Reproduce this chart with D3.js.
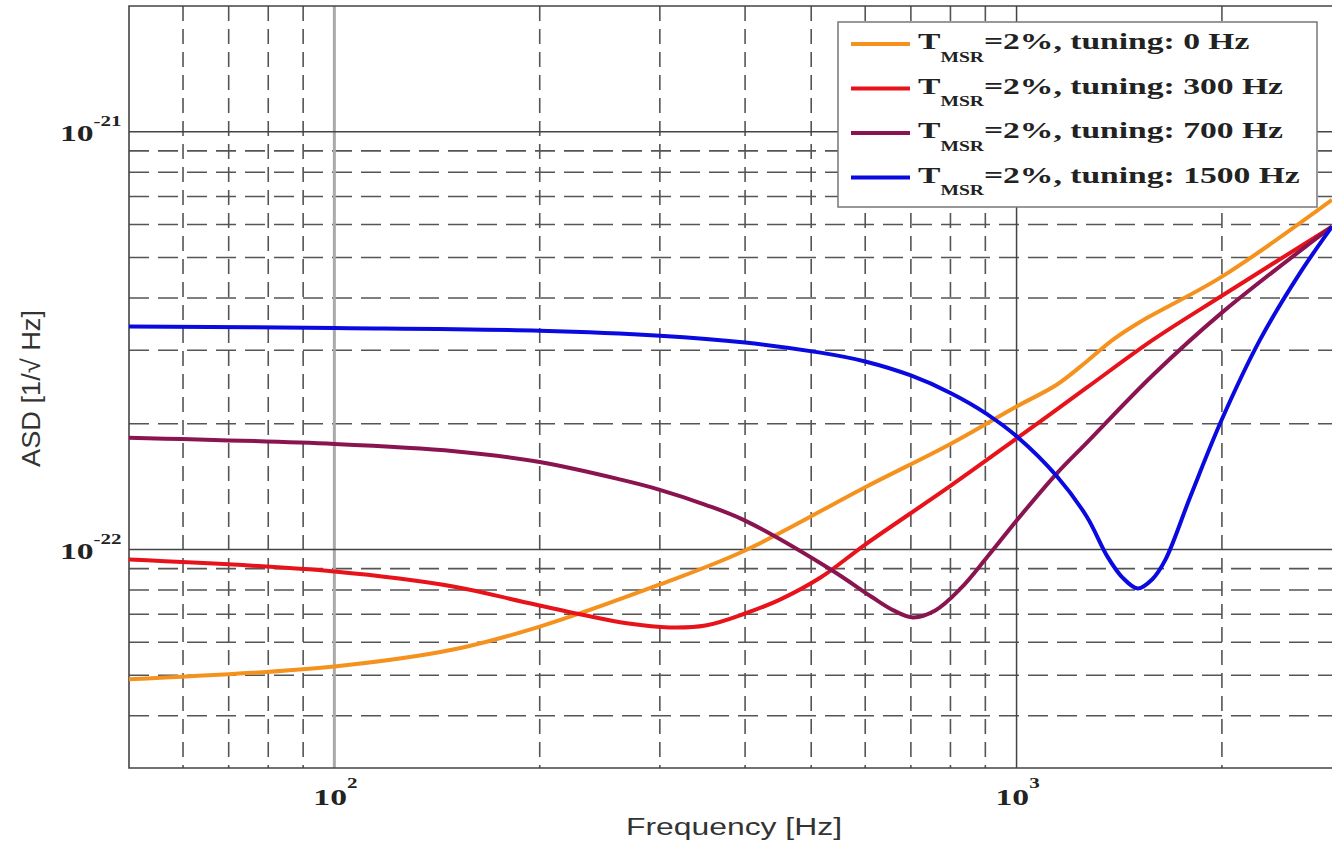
<!DOCTYPE html>
<html>
<head>
<meta charset="utf-8">
<script src="https://cdn.jsdelivr.net/npm/d3@7"></script>
<style>
  body { margin: 0; background: #fff; }
  svg { display: block; }
</style>
</head>
<body>
<div id="vis"></div>
<script>
// frequencies (Hz) and ASD values
var freqs0 = [50, 100, 150, 200, 300, 400, 600, 800, 1000, 1145, 1267, 1385, 1519, 2000, 2900];
var asd0 = [4.89e-23, 5.25e-23, 5.77e-23, 6.54e-23, 8.25e-23, 9.95e-23, 1.41e-22, 1.79e-22, 2.2e-22, 2.48e-22, 2.82e-22, 3.18e-22, 3.51e-22, 4.5e-22, 6.87e-22];

var freqs300 = [50, 100, 150, 188, 230, 270, 310, 350, 400, 450, 516, 600, 800, 1003, 1267, 1586, 2000, 2900];
var asd300 = [9.46e-23, 8.86e-23, 8.15e-23, 7.51e-23, 6.99e-23, 6.65e-23, 6.51e-23, 6.58e-23, 7.03e-23, 7.59e-23, 8.57e-23, 1.028e-22, 1.42e-22, 1.85e-22, 2.44e-22, 3.18e-22, 4.05e-22, 5.93e-22];

var freqs700 = [50, 100, 150, 200, 263, 300, 350, 400, 534, 612, 660, 705, 760, 828, 905, 1003, 1145, 1267, 1586, 2000, 2900];
var asd700 = [1.853e-22, 1.79e-22, 1.72e-22, 1.62e-22, 1.47e-22, 1.39e-22, 1.28e-22, 1.173e-22, 8.96e-23, 7.72e-23, 7.15e-23, 6.88e-23, 7.15e-23, 8.07e-23, 9.58e-23, 1.18e-22, 1.52e-22, 1.8e-22, 2.62e-22, 3.69e-22, 5.93e-22];

var freqs1500 = [50, 100, 200, 300, 400, 516, 600, 700, 800, 905, 1003, 1145, 1267, 1359, 1430, 1505, 1580, 1653, 1798, 2000, 2275, 2605, 2900];
var asd1500 = [3.42e-22, 3.39e-22, 3.34e-22, 3.25e-22, 3.13e-22, 2.96e-22, 2.82e-22, 2.61e-22, 2.37e-22, 2.11e-22, 1.86e-22, 1.5e-22, 1.2e-22, 9.62e-23, 8.57e-23, 8.07e-23, 8.48e-23, 9.46e-23, 1.34e-22, 2.05e-22, 3.18e-22, 4.6e-22, 5.93e-22];

var tunings = ["0 Hz", "300 Hz", "700 Hz", "1500 Hz"];
var colors = ["#f5921e", "#e8121a", "#8a1450", "#0a0ae0"];

var xMinor = [60, 70, 80, 90, 200, 300, 400, 500, 600, 700, 800, 900, 2000];
var xMajor = [100, 1000];
var yMinor = [4e-23, 5e-23, 6e-23, 7e-23, 8e-23, 9e-23, 2e-22, 3e-22, 4e-22, 5e-22, 6e-22, 7e-22, 8e-22, 9e-22];
var yMajor = [1e-22, 1e-21];
var xTickExp = ["2", "3"];
var yTickExp = ["-22", "-21"];

var width = 1332, height = 841;
var margin = {top: 6, right: 0, bottom: 73, left: 129};
var stretch = 1.4; // the picture is drawn wider than tall

var svg = d3.select("#vis").append("svg")
    .attr("width", width)
    .attr("height", height);

var x = d3.scaleLog()
    .domain([50, 2900])
    .range([margin.left, width - margin.right]);

var y = d3.scaleLog()
    .domain([3e-23, 2e-21])
    .range([height - margin.bottom, margin.top]);

var plotTop = margin.top, plotBottom = height - margin.bottom;
var plotLeft = margin.left, plotRight = width - margin.right;

var grid = svg.append("g");

// dashed minor grid
grid.selectAll(".vminor").data(xMinor).enter().append("line")
    .attr("x1", function(d) { return x(d); })
    .attr("x2", function(d) { return x(d); })
    .attr("y1", plotTop).attr("y2", plotBottom)
    .attr("stroke", "#555").attr("stroke-width", 1.6)
    .attr("stroke-dasharray", "15,8");

grid.selectAll(".hminor").data(yMinor).enter().append("line")
    .attr("x1", plotLeft).attr("x2", plotRight)
    .attr("y1", function(d) { return y(d); })
    .attr("y2", function(d) { return y(d); })
    .attr("stroke", "#555").attr("stroke-width", 1.6)
    .attr("stroke-dasharray", "20,9");

// solid decade lines
grid.append("line")
    .attr("x1", x(xMajor[0])).attr("x2", x(xMajor[0]))
    .attr("y1", plotTop).attr("y2", plotBottom)
    .attr("stroke", "#aaa").attr("stroke-width", 3);
grid.append("line")
    .attr("x1", x(xMajor[1])).attr("x2", x(xMajor[1]))
    .attr("y1", plotTop).attr("y2", plotBottom)
    .attr("stroke", "#444").attr("stroke-width", 1.5);

grid.selectAll(".hmajor").data(yMajor).enter().append("line")
    .attr("x1", plotLeft).attr("x2", plotRight)
    .attr("y1", function(d) { return y(d); })
    .attr("y2", function(d) { return y(d); })
    .attr("stroke", "#444").attr("stroke-width", 1.5);

// frame
svg.append("path")
    .attr("d", "M" + plotRight + "," + plotTop + "H" + plotLeft + "V" + plotBottom + "H" + plotRight)
    .attr("fill", "none")
    .attr("stroke", "#444")
    .attr("stroke-width", 1.6);

// curves
var series = [
    {f: freqs0, v: asd0},
    {f: freqs300, v: asd300},
    {f: freqs700, v: asd700},
    {f: freqs1500, v: asd1500}
];

var line = d3.line()
    .x(function(d) { return x(d[0]); })
    .y(function(d) { return y(d[1]); })
    .curve(d3.curveCatmullRom.alpha(0.5));

svg.append("defs").append("clipPath").attr("id", "clip")
    .append("rect")
    .attr("x", plotLeft).attr("y", plotTop)
    .attr("width", plotRight - plotLeft).attr("height", plotBottom - plotTop);

svg.append("g").attr("clip-path", "url(#clip)")
    .selectAll(".curve").data(series).enter().append("path")
    .attr("d", function(s) { return line(d3.zip(s.f, s.v)); })
    .attr("fill", "none")
    .attr("stroke", function(s, i) { return colors[i]; })
    .attr("stroke-width", 4)
    .attr("stroke-linejoin", "round");

// tick labels
var serif = "'Liberation Serif', 'Times New Roman', serif";

xMajor.forEach(function(d, i) {
    var t = svg.append("text")
        .attr("transform", "translate(" + (x(d) - 21) + ",805) scale(" + stretch + ",1)")
        .attr("font-family", serif)
        .attr("font-weight", "bold")
        .attr("font-size", 24)
        .attr("fill", "#222");
    t.append("tspan").text("10");
    t.append("tspan").attr("dy", -17).attr("font-size", 15).text(xTickExp[i]);
});

yMajor.forEach(function(d, i) {
    var t = svg.append("text")
        .attr("transform", "translate(60," + (y(d) + 9) + ") scale(" + stretch + ",1)")
        .attr("font-family", serif)
        .attr("font-weight", "bold")
        .attr("font-size", 24)
        .attr("fill", "#222");
    t.append("tspan").text("10");
    t.append("tspan").attr("dy", -15).attr("font-size", 15).text(yTickExp[i]);
});

// axis titles
var sans = "'Liberation Sans', Arial, sans-serif";
svg.append("text")
    .attr("x", 626)
    .attr("y", 835)
    .attr("font-family", sans)
    .attr("font-size", 23)
    .attr("fill", "#333")
    .attr("textLength", 216)
    .attr("lengthAdjust", "spacingAndGlyphs")
    .text("Frequency [Hz]");

svg.append("text")
    .attr("transform", "translate(40,467) rotate(-90) scale(1,1.3)")
    .attr("font-family", sans)
    .attr("font-size", 20)
    .attr("fill", "#333")
    .attr("textLength", 157)
    .attr("lengthAdjust", "spacingAndGlyphs")
    .text("ASD [1/\u221A Hz]");

// legend
var legend = svg.append("g");
legend.append("rect")
    .attr("x", 838).attr("y", 22)
    .attr("width", 479).attr("height", 185)
    .attr("fill", "#fff")
    .attr("stroke", "#777")
    .attr("stroke-width", 1.5);

tunings.forEach(function(tn, i) {
    var ly = 44 + i * 44.5;
    legend.append("line")
        .attr("x1", 851).attr("x2", 910)
        .attr("y1", ly).attr("y2", ly)
        .attr("stroke", colors[i])
        .attr("stroke-width", 4);
    var t = legend.append("text")
        .attr("transform", "translate(918," + (ly + 5) + ") scale(" + stretch + ",1)")
        .attr("font-family", serif)
        .attr("font-weight", "bold")
        .attr("font-size", 24)
        .attr("fill", "#222");
    t.append("tspan").text("T");
    t.append("tspan").attr("dy", 13).attr("font-size", 14).text("MSR");
    t.append("tspan").attr("dy", -13).text("=2%, tuning: " + tn);
});
</script>
</body>
</html>
